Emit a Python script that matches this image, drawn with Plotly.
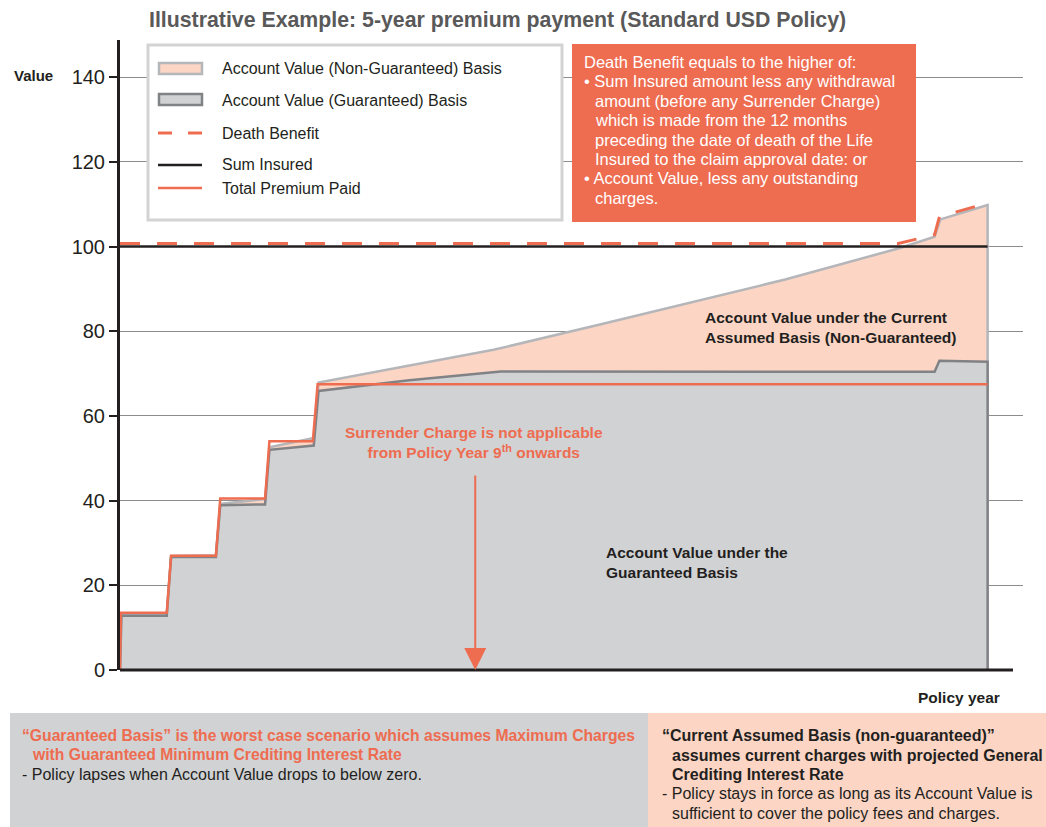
import plotly.graph_objects as go

# ---------------- data ----------------
prem_x = [0, 0.02, 0.97, 1.06, 1.99, 2.08, 3.01, 3.10, 4.00, 4.10, 18]
prem_y = [0, 13.5, 13.5, 27.0, 27.0, 40.5, 40.5, 54.0, 54.0, 67.5, 67.5]

guar_x = [0, 0.03, 0.97, 1.06, 1.99, 2.08, 3.01, 3.10, 4.02, 4.12, 6.0, 7.9, 16.9, 17.0, 18, 18]
guar_y = [0, 12.8, 12.8, 26.7, 26.7, 38.9, 39.1, 52.0, 53.0, 65.9, 68.4, 70.5, 70.4, 73.0, 72.8, 0]

ng_x = [0, 0.03, 0.97, 1.06, 1.99, 2.08, 3.01, 3.10, 4.02, 4.12, 7.75, 10.0, 13.8, 16.2, 16.9, 17.02, 18, 18]
ng_y = [0, 13.0, 13.2, 26.9, 27.1, 39.2, 40.4, 52.6, 54.8, 67.9, 75.6, 81.7, 92.2, 99.7, 102.3, 106.4, 109.8, 0]

db_x = [0, 16.15, 16.9, 17.0, 18]
db_y = [100.7, 100.7, 102.8, 107.0, 110.3]

si_x = [0, 18]
si_y = [100, 100]

y_ticks = [0, 20, 40, 60, 80, 100, 120, 140]
surrender_year = 7.37

# ---------------- styles ----------------
RED = "#ee6c50"
PEACH = "#fcd5c4"
GRAY_FILL = "#d1d2d4"
GRAY_LINE = "#808285"
LIGHT_LINE = "#b4b6b9"
DARK = "#231f20"
FONT = "Liberation Sans, Arial, sans-serif"
NARROW = "Liberation Sans Narrow, Arial Narrow, Liberation Sans, sans-serif"

W, H = 1046, 827
L, R, T, B = 120, 23, 40, 157
PW, PH = W - L - R, H - T - B


def PX(px):
    return (px - L) / PW


def PY(py):
    return (H - B - py) / PH


fig = go.Figure()
fig.add_trace(go.Scatter(x=ng_x, y=ng_y, mode="lines", fill="tozeroy", fillcolor=PEACH,
                         line=dict(color=LIGHT_LINE, width=2.5), hoverinfo="skip", showlegend=False))
fig.add_trace(go.Scatter(x=guar_x, y=guar_y, mode="lines", fill="tozeroy", fillcolor=GRAY_FILL,
                         line=dict(color=GRAY_LINE, width=2.5), hoverinfo="skip", showlegend=False))
fig.add_trace(go.Scatter(x=prem_x, y=prem_y, mode="lines",
                         line=dict(color=RED, width=2.5), hoverinfo="skip", showlegend=False))
fig.add_trace(go.Scatter(x=si_x, y=si_y, mode="lines",
                         line=dict(color=DARK, width=2.5), hoverinfo="skip", showlegend=False))
fig.add_trace(go.Scatter(x=db_x, y=db_y, mode="lines",
                         line=dict(color=RED, width=3, dash="20px,17px"), hoverinfo="skip", showlegend=False))

shapes = []
annotations = []

# x-axis line
shapes.append(dict(type="line", xref="paper", yref="paper", x0=0, x1=PX(1013), y0=0, y1=0,
                   line=dict(color=DARK, width=3), layer="above"))

# legend box
shapes.append(dict(type="rect", xref="paper", yref="paper", x0=PX(148), x1=PX(562), y0=PY(45), y1=PY(220),
                   fillcolor="white", line=dict(color="#d3d3d3", width=3), layer="above"))
# legend swatches
shapes.append(dict(type="rect", xref="paper", yref="paper", x0=PX(159), x1=PX(202), y0=PY(63), y1=PY(74),
                   fillcolor=PEACH, line=dict(color=LIGHT_LINE, width=2.5), layer="above"))
shapes.append(dict(type="rect", xref="paper", yref="paper", x0=PX(159), x1=PX(202), y0=PY(94), y1=PY(105),
                   fillcolor=GRAY_FILL, line=dict(color=GRAY_LINE, width=2.5), layer="above"))
shapes.append(dict(type="line", xref="paper", yref="paper", x0=PX(158), x1=PX(172), y0=PY(133), y1=PY(133),
                   line=dict(color=RED, width=3), layer="above"))
shapes.append(dict(type="line", xref="paper", yref="paper", x0=PX(188), x1=PX(202), y0=PY(133), y1=PY(133),
                   line=dict(color=RED, width=3), layer="above"))
shapes.append(dict(type="line", xref="paper", yref="paper", x0=PX(158), x1=PX(202), y0=PY(165), y1=PY(165),
                   line=dict(color=DARK, width=2.5), layer="above"))
shapes.append(dict(type="line", xref="paper", yref="paper", x0=PX(158), x1=PX(202), y0=PY(188), y1=PY(188),
                   line=dict(color=RED, width=2.5), layer="above"))
legend_labels = ["Account Value (Non-Guaranteed) Basis", "Account Value (Guaranteed) Basis",
                 "Death Benefit", "Sum Insured", "Total Premium Paid"]
legend_ys = [69, 100, 133, 164, 188]
for lab, yy in zip(legend_labels, legend_ys):
    annotations.append(dict(xref="paper", yref="paper", x=PX(220), y=PY(yy), text=lab, showarrow=False,
                            xanchor="left", yanchor="middle", font=dict(family=FONT, size=16, color=DARK)))

# orange info box
shapes.append(dict(type="rect", xref="paper", yref="paper", x0=PX(572), x1=PX(916), y0=PY(44), y1=PY(222),
                   fillcolor=RED, line=dict(width=0), layer="above"))
box_lines = [
    (582, "Death Benefit equals to the higher of:"),
    (582, "• Sum Insured amount less any withdrawal"),
    (593, "amount (before any Surrender Charge)"),
    (593, "which is made from the 12 months"),
    (593, "preceding the date of death of the Life"),
    (593, "Insured to the claim approval date: or"),
    (582, "• Account Value, less any outstanding"),
    (593, "charges."),
]
for i, (xx, txt) in enumerate(box_lines):
    annotations.append(dict(xref="paper", yref="paper", x=PX(xx), y=PY(62 + i * 19.4), text=txt,
                            showarrow=False, xanchor="left", yanchor="middle",
                            font=dict(family=FONT, size=16.5, color="white")))

# in-chart annotations
annotations.append(dict(xref="x", yref="y", x=surrender_year, y=0, ax=0, ay=-196, text="",
                        showarrow=True, arrowhead=2, arrowsize=2.2, arrowwidth=2, arrowcolor=RED))
annotations.append(dict(xref="paper", yref="paper", x=PX(474), y=PY(443),
                        text="Surrender Charge is not applicable<br>from Policy Year 9<sup>th</sup> onwards",
                        showarrow=False, xanchor="center", yanchor="middle", align="center",
                        font=dict(family=FONT, size=15.5, color=RED, weight="bold")))
annotations.append(dict(xref="paper", yref="paper", x=PX(703), y=PY(327),
                        text="Account Value under the Current<br>Assumed Basis (Non-Guaranteed)",
                        showarrow=False, xanchor="left", yanchor="middle", align="left",
                        font=dict(family=FONT, size=15.5, color=DARK, weight="bold")))
annotations.append(dict(xref="paper", yref="paper", x=PX(604), y=PY(562),
                        text="Account Value under the<br>Guaranteed Basis",
                        showarrow=False, xanchor="left", yanchor="middle", align="left",
                        font=dict(family=FONT, size=15.5, color=DARK, weight="bold")))

# axis captions
annotations.append(dict(xref="paper", yref="paper", x=PX(12), y=PY(75), text="Value", showarrow=False,
                        xanchor="left", yanchor="middle", font=dict(family=FONT, size=15, color=DARK, weight="bold")))
annotations.append(dict(xref="paper", yref="paper", x=PX(1002), y=PY(697), text="Policy year", showarrow=False,
                        xanchor="right", yanchor="middle", font=dict(family=FONT, size=15.5, color=DARK, weight="bold")))

# title
annotations.append(dict(xref="paper", yref="paper", x=PX(497), y=PY(20),
                        text="Illustrative Example: 5-year premium payment (Standard USD Policy)",
                        showarrow=False, xanchor="center", yanchor="middle",
                        font=dict(family=NARROW, size=21.3, color="#595959", weight="bold")))

# bottom boxes
shapes.append(dict(type="rect", xref="paper", yref="paper", x0=PX(10), x1=PX(648), y0=PY(713), y1=PY(827),
                   fillcolor=GRAY_FILL, line=dict(width=0), layer="above"))
shapes.append(dict(type="rect", xref="paper", yref="paper", x0=PX(648), x1=PX(1046), y0=PY(713), y1=PY(827),
                   fillcolor=PEACH, line=dict(width=0), layer="above"))
bottom_left = [
    (20, 735, "“Guaranteed Basis” is the worst case scenario which assumes Maximum Charges", RED, "bold", 15.7),
    (30, 754, "with Guaranteed Minimum Crediting Interest Rate", RED, "bold", 15.7),
    (20, 774, "- Policy lapses when Account Value drops to below zero.", DARK, "normal", 16),
]
bottom_right = [
    (660, 735, "“Current Assumed Basis (non-guaranteed)”", DARK, "bold", 16),
    (670, 755, "assumes current charges with projected General", DARK, "bold", 16),
    (670, 774, "Crediting Interest Rate", DARK, "bold", 16),
    (660, 793, "- Policy stays in force as long as its Account Value is", DARK, "normal", 16),
    (670, 813, "sufficient to cover the policy fees and charges.", DARK, "normal", 16),
]
for xx, yy, txt, col, wt, sz in bottom_left + bottom_right:
    annotations.append(dict(xref="paper", yref="paper", x=PX(xx), y=PY(yy), text=txt, showarrow=False,
                            xanchor="left", yanchor="middle",
                            font=dict(family=NARROW, size=sz, color=col, weight=wt)))

fig.update_layout(
    width=W, height=H, autosize=False,
    margin=dict(l=L, r=R, t=T, b=B),
    plot_bgcolor="white", paper_bgcolor="white",
    shapes=shapes, annotations=annotations, showlegend=False,
    xaxis=dict(range=[0, PW / 48.2], showgrid=False, showticklabels=False, ticks="", zeroline=False,
               showline=False, fixedrange=True),
    yaxis=dict(range=[0, PH / 4.235], tickmode="array", tickvals=y_ticks, ticktext=[str(v) for v in y_ticks],
               showgrid=True, gridcolor="#8c8c8c", gridwidth=1, zeroline=False,
               showline=True, linecolor=DARK, linewidth=3, ticks="outside", ticklen=8, tickwidth=2,
               tickcolor=DARK, tickfont=dict(family=FONT, size=20, color=DARK), fixedrange=True),
)

fig.write_html("out.html", config={"displayModeBar": False},
               post_script="document.body.style.margin='0px';document.body.style.overflow='hidden';")
